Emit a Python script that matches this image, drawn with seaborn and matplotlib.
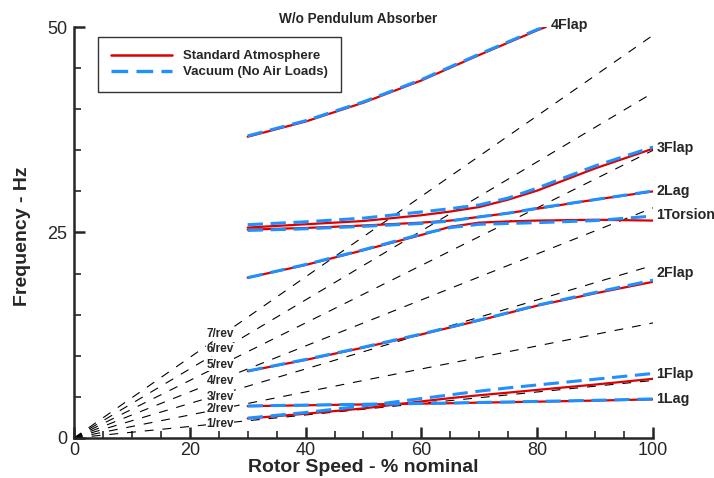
import numpy as np
import pandas as pd
import matplotlib
matplotlib.use("Agg")
import matplotlib.pyplot as plt
from matplotlib.ticker import MultipleLocator
from matplotlib.lines import Line2D
import seaborn as sns

# ---------------- data ----------------
SPEED = [30, 40, 50, 60, 65, 70, 75, 80, 90, 100]          # % nominal rotor speed
SPEED_4FLAP = [30, 40, 50, 60, 70, 80, 81.5]

# Standard atmosphere (red, solid)
atm_1lag   = [3.87, 3.98, 4.08, 4.18, 4.23, 4.30, 4.36, 4.42, 4.55, 4.70]
atm_1flap  = [2.37, 2.95, 3.60, 4.45, 4.85, 5.20, 5.52, 5.85, 6.50, 7.20]
atm_2flap  = [8.13, 9.50, 11.0, 12.6, 13.45, 14.3, 15.2, 16.1, 17.6, 19.0]
atm_upper  = [25.6, 26.0, 26.4, 27.1, 27.55, 28.1, 29.0, 30.1, 32.8, 35.2]   # 2Lag -> 3Flap
atm_middle = [25.35, 25.55, 25.85, 26.2, 26.45, 26.9, 27.35, 27.9, 29.0, 30.0]  # 1Torsion -> 2Lag
atm_lower  = [19.5, 21.05, 22.85, 24.7, 25.7, 26.2, 26.35, 26.45, 26.55, 26.45]  # 3Flap -> 1Torsion
atm_4flap  = [36.65, 38.5, 40.8, 43.5, 46.6, 49.6, 50.0]

# Vacuum, no air loads (blue, dashed)
vac_1lag   = [3.90, 4.00, 4.10, 4.20, 4.25, 4.32, 4.38, 4.45, 4.58, 4.75]
vac_1flap  = [2.42, 3.10, 3.90, 4.80, 5.25, 5.70, 6.10, 6.45, 7.15, 7.85]
vac_2flap  = [8.15, 9.55, 11.05, 12.65, 13.5, 14.35, 15.25, 16.15, 17.7, 19.2]
vac_upper  = [25.95, 26.3, 26.75, 27.5, 27.9, 28.35, 29.2, 30.4, 33.1, 35.4]
vac_middle = [25.25, 25.45, 25.75, 26.1, 26.4, 26.9, 27.35, 27.95, 29.0, 30.05]
vac_lower  = [19.5, 21.1, 22.9, 24.8, 25.6, 26.0, 26.1, 26.2, 26.45, 27.0]
vac_4flap  = [36.75, 38.6, 40.9, 43.6, 46.7, 49.7, 50.0]

# per-rev reference lines
PER_REV = [1, 2, 3, 4, 5, 6, 7]
ONE_P_HZ = 7.0              # 1/rev frequency at 100 % nominal speed
REV_SPEED = [0, 100]

MODE_LABELS = ["4Flap", "3Flap", "2Lag", "1Torsion", "2Flap", "1Flap", "1Lag"]
COND_LABELS = ["Standard Atmosphere", "Vacuum (No Air Loads)"]

# ---------------- build tables ----------------
rows = []
def add(cond, branch, xs, ys):
    for x, y in zip(xs, ys):
        rows.append(dict(speed=x, freq=y, condition=cond, branch=branch))

for cond, series in [
    ("atm", [atm_1lag, atm_1flap, atm_2flap, atm_upper, atm_middle, atm_lower]),
    ("vac", [vac_1lag, vac_1flap, vac_2flap, vac_upper, vac_middle, vac_lower]),
]:
    for i, ys in enumerate(series):
        add(cond, f"b{i}", SPEED, ys)
add("atm", "b4f", SPEED_4FLAP, atm_4flap)
add("vac", "b4f", SPEED_4FLAP, vac_4flap)
df = pd.DataFrame(rows)

rev_rows = []
for n in PER_REV:
    for s in REV_SPEED:
        rev_rows.append(dict(speed=s, freq=n * ONE_P_HZ * s / 100.0, order=n))
df_rev = pd.DataFrame(rev_rows)

# ---------------- plot ----------------
sns.set_style("ticks")
plt.rcParams["font.family"] = ["Liberation Sans", "DejaVu Sans"]

fig = plt.figure(figsize=(7.14, 4.78), dpi=100)
ax = fig.add_axes([0.1036, 0.0837, 0.8110, 0.8598])

RED = "#dd0000"
BLUE = "#1e90ff"

for n, g in df_rev.groupby("order"):
    sns.lineplot(data=g, x="speed", y="freq", ax=ax, color="black",
                 lw=0.8, linestyle=(0, (8, 8)), estimator=None, sort=False,
                 legend=False, zorder=1)

for (cond, br), g in df[df.condition == "atm"].groupby(["condition", "branch"]):
    sns.lineplot(data=g, x="speed", y="freq", ax=ax, color=RED, lw=1.6,
                 estimator=None, legend=False, zorder=2)
for (cond, br), g in df[df.condition == "vac"].groupby(["condition", "branch"]):
    sns.lineplot(data=g, x="speed", y="freq", ax=ax, color=BLUE, lw=2.2,
                 linestyle=(0, (5, 2.5)), estimator=None, legend=False, zorder=3)

ax.set_xlim(0, 100)
ax.set_ylim(0, 50)
ax.xaxis.set_major_locator(MultipleLocator(20))
ax.xaxis.set_minor_locator(MultipleLocator(5))
ax.yaxis.set_major_locator(MultipleLocator(25))
ax.yaxis.set_minor_locator(MultipleLocator(5))
ax.tick_params(which="major", direction="in", length=8, width=1.8, labelsize=13)
ax.tick_params(which="minor", direction="in", length=5, width=1.2)
ax.tick_params(axis="x", pad=3)
ax.tick_params(axis="y", pad=5)
for s in ["left", "bottom"]:
    ax.spines[s].set_linewidth(1.8)
sns.despine(ax=ax)

ax.set_xlabel("Rotor Speed - % nominal", fontsize=14, fontweight="bold", labelpad=0)
ax.set_ylabel("Frequency - Hz", fontsize=14, fontweight="bold")
ax.yaxis.set_label_coords(-0.075, 0.49)
ax.set_title("W/o Pendulum Absorber", fontsize=9.8, fontweight="bold", pad=3,
             x=0.49)

# mode labels
mode_pos = {"4Flap": (82.4, 50.3), "3Flap": (100.6, 35.3), "2Lag": (100.6, 30.1),
            "1Torsion": (100.6, 27.1), "2Flap": (100.6, 20.1),
            "1Flap": (100.6, 7.8), "1Lag": (100.6, 4.8)}
for lab in MODE_LABELS:
    x, y = mode_pos[lab]
    ax.text(x, y, lab, fontsize=10.3, fontweight="bold", ha="left", va="center",
            clip_on=False)

# per-rev labels
rev_label_y = [1.7, 3.5, 5.0, 6.9, 8.9, 10.8, 12.7]
for n, y in zip(PER_REV, rev_label_y):
    ax.text(27.6, y, f"{n}/rev", fontsize=8.5, fontweight="bold", ha="right",
            va="center", bbox=dict(facecolor="white", edgecolor="none", pad=0.3),
            zorder=4)

handles = [Line2D([0], [0], color=RED, lw=1.8),
           Line2D([0], [0], color=BLUE, lw=2.4, linestyle=(0, (5, 2.5)))]
leg = ax.legend(handles, COND_LABELS, loc="upper left", bbox_to_anchor=(0.042, 0.9764),
                prop=dict(size=9.5, weight="bold"), frameon=True, fancybox=False,
                edgecolor="black", handlelength=4.6, borderpad=1.0, labelspacing=0.3,
                handletextpad=0.8, borderaxespad=0)
leg.get_frame().set_linewidth(1.0)

fig.savefig("out.png", dpi=100)
